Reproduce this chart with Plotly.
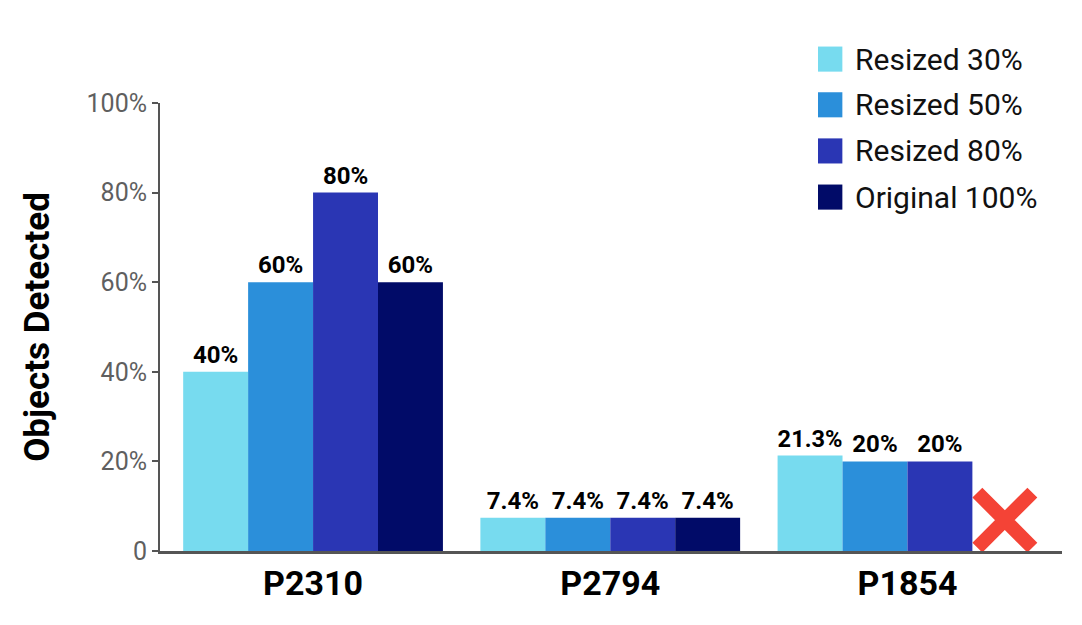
import plotly.graph_objects as go

# dati
categories = ["P2310", "P2794", "P1854"]
series_names = ["Resized 30%", "Resized 50%", "Resized 80%", "Original 100%"]
series_values = [
    [40, 7.4, 21.3],
    [60, 7.4, 20],
    [80, 7.4, 20],
    [60, 7.4, None],   # nessun valore per P1854
]
series_labels = [
    ["40%", "7.4%", "21.3%"],
    ["60%", "7.4%", "20%"],
    ["80%", "7.4%", "20%"],
    ["60%", "7.4%", ""],
]
colors = ["#77DBEF", "#2B8FDA", "#2A36B4", "#010B68"]
y_ticks = [0, 20, 40, 60, 80, 100]
y_ticktext = ["0", "20%", "40%", "60%", "80%", "100%"]
missing_category = 2      # P1854 senza "Original 100%"
missing_marker_y = 6.9

bargap = 0.126
n_series = len(series_names)

fig = go.Figure()
x_pos = list(range(len(categories)))

for name, vals, labels, col in zip(series_names, series_values, series_labels, colors):
    fig.add_trace(go.Bar(
        x=x_pos, y=vals, name=name, marker=dict(color=col, line=dict(width=0)),
        text=labels, textposition="outside", cliponaxis=False,
        textfont=dict(family="Roboto", size=24, color="#000000", weight="bold"),
        showlegend=False,
    ))

# croce rossa al posto della barra mancante
slot = (1 - bargap) / n_series
fig.add_trace(go.Scatter(
    x=[missing_category + 1.5 * slot], y=[missing_marker_y], mode="markers",
    marker=dict(symbol="x-thin", size=55, line=dict(width=14, color="#F44336")),
    showlegend=False, cliponaxis=False, hoverinfo="skip",
))

# legenda manuale (quadrati grandi)
legend_y = [1.098, 0.996, 0.893, 0.790]
for name, col, ly in zip(series_names, colors, legend_y):
    fig.add_shape(type="rect", xref="paper", yref="paper",
                  x0=0.7295, x1=0.7565, y0=ly - 0.028, y1=ly + 0.028,
                  fillcolor=col, line=dict(width=0))
    fig.add_annotation(xref="paper", yref="paper", x=0.768, y=ly, text=name,
                       showarrow=False, xanchor="left", yanchor="middle",
                       font=dict(family="Roboto", size=30, color="#111111"))

fig.update_layout(
    width=1082, height=625,
    margin=dict(l=152, r=28, t=95, b=82),
    plot_bgcolor="white", paper_bgcolor="white",
    barmode="group", bargap=bargap, bargroupgap=0,
    showlegend=False,
    font=dict(family="Roboto"),
)
fig.update_xaxes(
    range=[-0.515, 2.52], tickvals=x_pos, ticktext=categories,
    showgrid=False, zeroline=False, showline=True, linecolor="#555555", linewidth=3,
    ticks="", tickfont=dict(family="Roboto", size=34, color="#000000", weight="bold"),
)
fig.update_yaxes(
    range=[0, 100], tickvals=y_ticks, ticktext=y_ticktext,
    showgrid=False, zeroline=False, showline=True, linecolor="#555555", linewidth=2,
    ticks="outside", ticklen=6, tickwidth=2, tickcolor="#555555",
    tickfont=dict(family="Roboto", size=25, color="#5f5f5f"),
    title=dict(text="Objects Detected", standoff=26,
               font=dict(family="Roboto", size=35, color="#000000", weight="bold")),
)

fig.write_html("out.html")
